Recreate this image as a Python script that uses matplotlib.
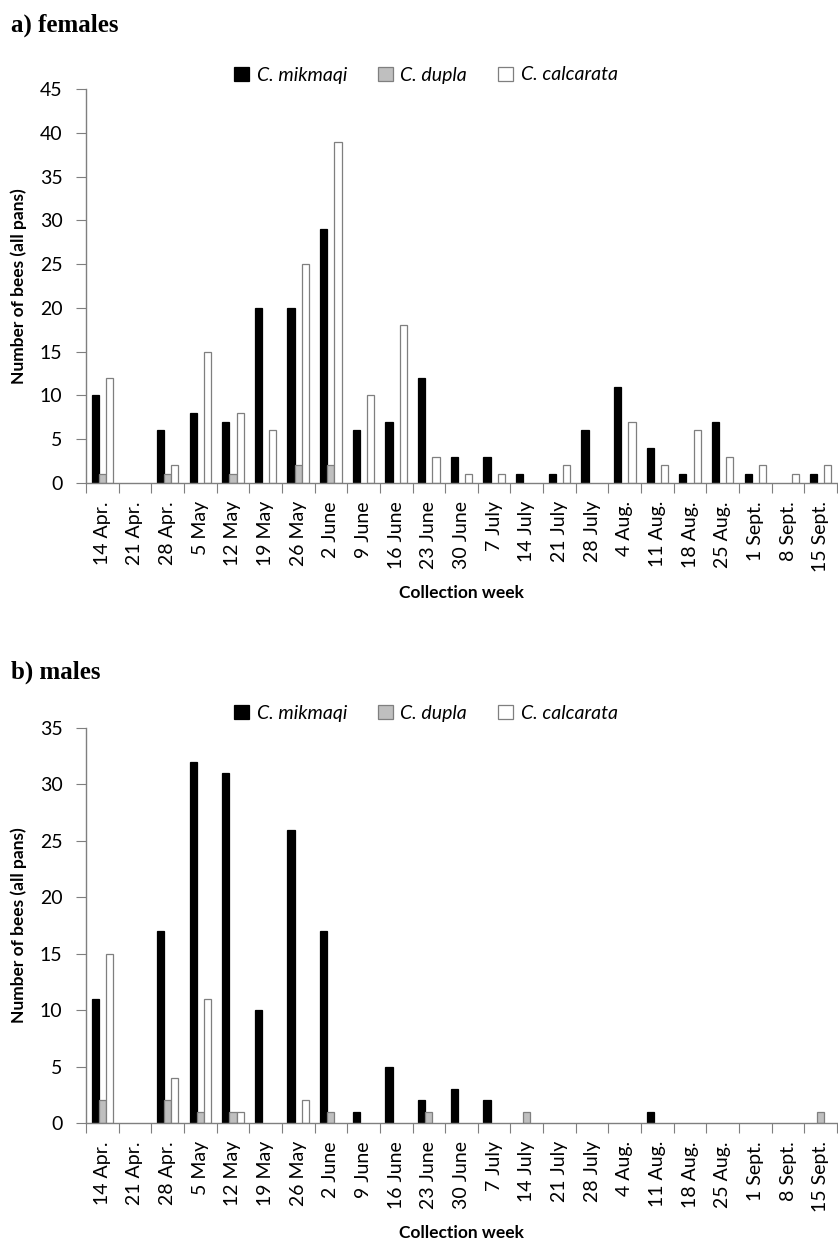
import matplotlib
matplotlib.use("Agg")
import matplotlib.pyplot as plt
import numpy as np
from matplotlib.patches import Patch

weeks = ["14 Apr.", "21 Apr.", "28 Apr.", "5 May", "12 May", "19 May", "26 May",
         "2 June", "9 June", "16 June", "23 June", "30 June", "7 July", "14 July",
         "21 July", "28 July", "4 Aug.", "11 Aug.", "18 Aug.", "25 Aug.",
         "1 Sept.", "8 Sept.", "15 Sept."]
species = ["C. mikmaqi", "C. dupla", "C. calcarata"]

fem_mikmaqi   = [10, 0, 6, 8, 7, 20, 20, 29, 6, 7, 12, 3, 3, 1, 1, 6, 11, 4, 1, 7, 1, 0, 1]
fem_dupla     = [1, 0, 1, 0, 1, 0, 2, 2, 0, 0, 0, 0, 0, 0, 0, 0, 0, 0, 0, 0, 0, 0, 0]
fem_calcarata = [12, 0, 2, 15, 8, 6, 25, 39, 10, 18, 3, 1, 1, 0, 2, 0, 7, 2, 6, 3, 2, 1, 2]

mal_mikmaqi   = [11, 0, 17, 32, 31, 10, 26, 17, 1, 5, 2, 3, 2, 0, 0, 0, 0, 1, 0, 0, 0, 0, 0]
mal_dupla     = [2, 0, 2, 1, 1, 0, 0, 1, 0, 0, 1, 0, 0, 1, 0, 0, 0, 0, 0, 0, 0, 0, 1]
mal_calcarata = [15, 0, 4, 11, 1, 0, 2, 0, 0, 0, 0, 0, 0, 0, 0, 0, 0, 0, 0, 0, 0, 0, 0]

fills = ["#000000", "#bfbfbf", "#ffffff"]
edges = ["#000000", "#7f7f7f", "#7f7f7f"]

SANS = ["Lato", "DejaVu Sans"]
W, H = 838, 1251
fig = plt.figure(figsize=(W / 100, H / 100), dpi=100)

def panel(ax, series, ymax, title, title_y, legend_y):
    x = np.arange(len(weeks))
    bw = 0.22
    for i, vals in enumerate(series):
        v = np.asarray(vals, dtype=float)
        nz = v > 0
        ax.bar(x[nz] + (i - 1) * bw, v[nz], width=bw, color=fills[i], edgecolor=edges[i],
               linewidth=0.9, zorder=3)
    ax.set_xlim(-0.5, len(weeks) - 0.5)
    ax.set_ylim(0, ymax)
    ax.set_yticks(np.arange(0, ymax + 1, 5))
    ax.set_xticks(np.arange(-0.5, len(weeks), 1.0))
    ax.set_xticklabels([])
    ax.set_xticks(x, minor=True)
    ax.set_xticklabels(weeks, minor=True, rotation=90, fontsize=14, family=SANS)
    ax.tick_params(axis="x", which="minor", length=0, pad=13)
    ax.tick_params(axis="x", which="major", length=7, color="#7f7f7f", direction="out")
    ax.tick_params(axis="y", length=7, color="#7f7f7f", direction="out", labelsize=14, pad=10)
    for lab in ax.get_yticklabels():
        lab.set_family(SANS)
    for s in ["top", "right"]:
        ax.spines[s].set_visible(False)
    for s in ["left", "bottom"]:
        ax.spines[s].set_color("#7f7f7f")
        ax.spines[s].set_linewidth(1.0)
        ax.spines[s].set_zorder(4)
    ax.set_ylabel("Number of bees (all pans)", fontsize=12.5, fontweight="bold", family=SANS,
                  labelpad=9)
    ax.set_xlabel("Collection week", fontsize=12.5, fontweight="bold", family=SANS, labelpad=9)
    fig.text(11 / W, 1 - title_y / H, title, fontsize=18, fontweight="bold",
             family=["Liberation Serif", "DejaVu Serif"], va="center", ha="left")
    handles = [Patch(facecolor=fills[i], edgecolor=edges[i], linewidth=0.9, label=species[i])
               for i in range(3)]
    fig.legend(handles=handles, loc="center", bbox_to_anchor=(426 / W, 1 - legend_y / H),
               ncol=3, frameon=False, handlelength=0.75, handleheight=0.75,
               handletextpad=0.4, columnspacing=1.6,
               prop={"family": SANS, "style": "italic", "size": 14})

ax1 = fig.add_axes([86 / W, 1 - 483 / H, (W - 87) / W, 394 / H])
panel(ax1, [fem_mikmaqi, fem_dupla, fem_calcarata], 45, "a) females", 25, 75)

ax2 = fig.add_axes([86 / W, 1 - 1123 / H, (W - 87) / W, 395 / H])
panel(ax2, [mal_mikmaqi, mal_dupla, mal_calcarata], 35, "b) males", 672, 713)

fig.savefig("out.png", dpi=100)
